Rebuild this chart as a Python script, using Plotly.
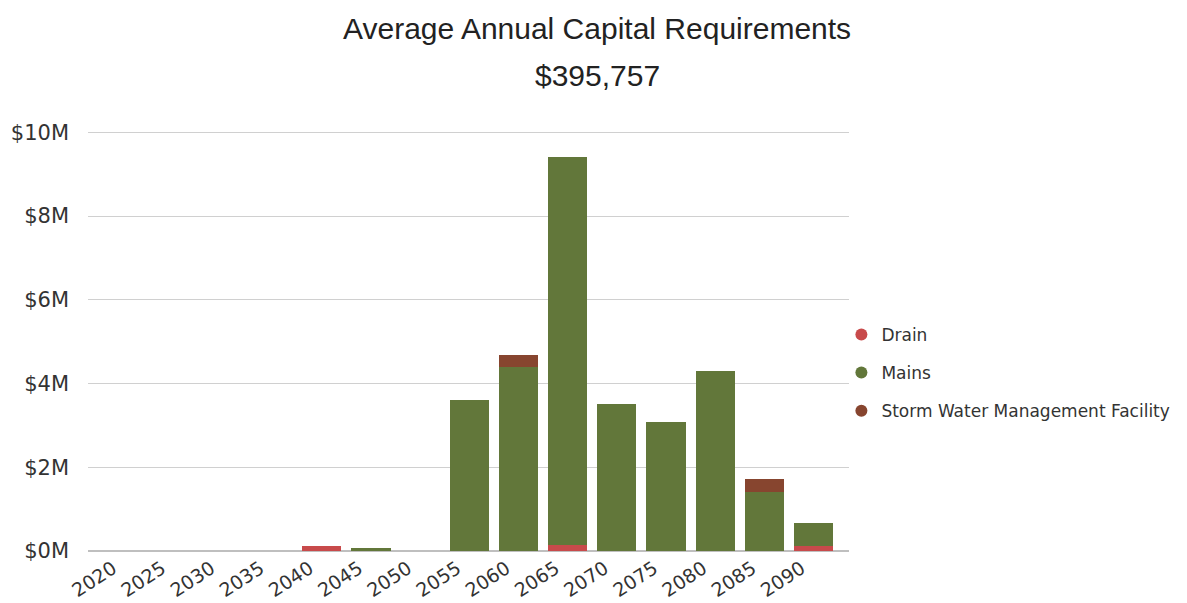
import plotly.graph_objects as go

# Five-year periods
years = ["2020", "2025", "2030", "2035", "2040", "2045", "2050", "2055",
         "2060", "2065", "2070", "2075", "2080", "2085", "2090"]

# Capital requirements per asset class, in $ millions
drain = [0, 0, 0, 0, 0.13, 0, 0, 0, 0, 0.14, 0, 0, 0, 0, 0.12]
mains = [0, 0, 0, 0, 0, 0.07, 0, 3.60, 4.40, 9.27, 3.52, 3.07, 4.31, 1.40, 0.55]
storm = [0, 0, 0, 0, 0, 0, 0, 0, 0.27, 0, 0, 0, 0, 0.31, 0]

series = [
    ("Drain", drain, "#C84A4B"),
    ("Mains", mains, "#62773A"),
    ("Storm Water Management Facility", storm, "#87452F"),
]

y_ticks = [0, 2, 4, 6, 8, 10]
y_tick_text = [f"${v}M" for v in y_ticks]

fig = go.Figure()
for name, vals, color in series:
    fig.add_trace(go.Bar(
        x=years, y=vals, name=name, marker_color=color,
        marker_line_width=0, showlegend=False,
    ))

# Round legend markers
for i, (name, vals, color) in enumerate(series):
    fig.add_trace(go.Scatter(
        x=[None], y=[None], mode="markers", name=name,
        marker=dict(symbol="circle", size=13, color=color),
        legendgroup=f"g{i}",
    ))

PLOT_L, PLOT_R, PLOT_T, PLOT_B = 88, 853, 131, 551
plot_w = PLOT_R - PLOT_L
plot_h = PLOT_B - PLOT_T

title_font = dict(family="Liberation Sans, Arial", size=30, color="#222222")

fig.update_layout(
    width=1187, height=603,
    barmode="stack", bargap=0.2,
    plot_bgcolor="white", paper_bgcolor="white",
    margin=dict(l=PLOT_L, r=1187 - PLOT_R, t=PLOT_T, b=603 - PLOT_B),
    showlegend=True,
    legend=dict(
        x=0.99, xanchor="left", y=0.424, yanchor="middle",
        font=dict(family="DejaVu Sans", size=17, color="#333333"),
        tracegroupgap=13, itemsizing="constant", itemwidth=30,
        bgcolor="rgba(0,0,0,0)",
    ),
    annotations=[
        dict(text="Average Annual Capital Requirements",
             x=(600 - PLOT_L) / plot_w, y=1 + (PLOT_T - 28) / plot_h,
             xref="paper", yref="paper", xanchor="center", yanchor="middle",
             showarrow=False, font=title_font),
        dict(text="$395,757",
             x=(600 - PLOT_L) / plot_w, y=1 + (PLOT_T - 75) / plot_h,
             xref="paper", yref="paper", xanchor="center", yanchor="middle",
             showarrow=False, font=title_font),
    ],
)

fig.update_xaxes(
    type="category", range=[-0.75, 14.72], automargin=False,
    tickangle=-33, showgrid=False, showline=False, ticks="",
    ticklabelshift=-12, ticklabelstandoff=2,
    tickfont=dict(family="DejaVu Sans", size=19, color="#333333"),
)
fig.update_yaxes(
    range=[0, 10.03], tickmode="array", tickvals=y_ticks, ticktext=y_tick_text,
    showgrid=True, gridcolor="#D0D0D0", gridwidth=1.3,
    zeroline=True, zerolinecolor="#BFBFBF", zerolinewidth=1.5,
    showline=False, ticks="", ticklabelstandoff=18, automargin=False,
    tickfont=dict(family="DejaVu Sans", size=21, color="#333333"),
)

fig.write_html("out.html")
